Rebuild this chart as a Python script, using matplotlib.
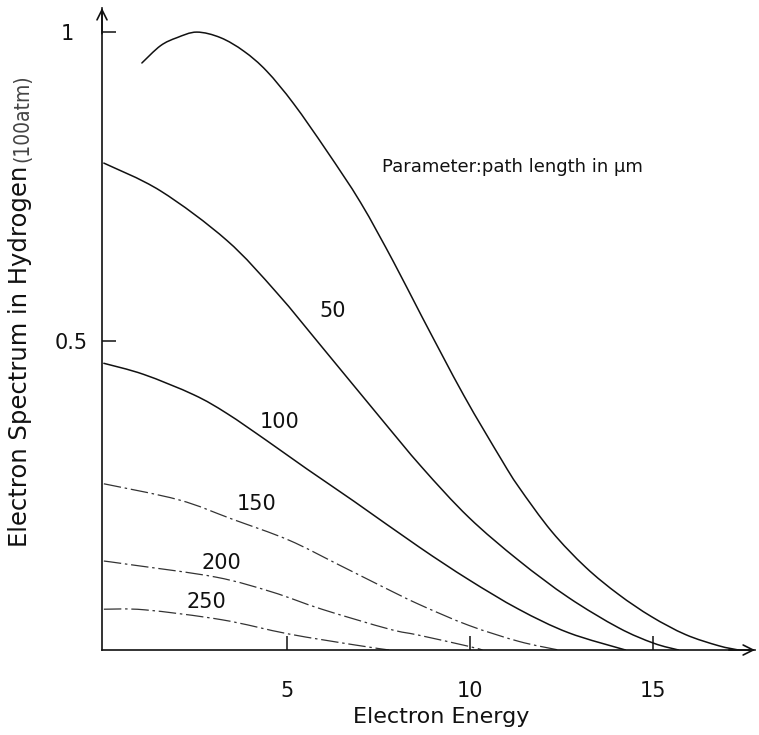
import matplotlib
matplotlib.use("Agg")
import numpy as np
import matplotlib.pyplot as plt
from matplotlib.path import Path
from matplotlib.patches import PathPatch
from matplotlib.transforms import ScaledTranslation

# Electron energy spectra in hydrogen (100 atm) after various path lengths (µm)
energy_0 = [1.04, 1.55, 2.0, 2.54, 3.19, 3.83, 4.45, 5.19, 6.09, 7.02, 7.92, 8.69,
            9.84, 10.87, 11.34, 12.24, 13.17, 14.07, 14.97, 15.90, 16.80, 17.35]
spec_0 = [0.950, 0.978, 0.991, 1.0, 0.991, 0.969, 0.937, 0.884, 0.808, 0.724, 0.628, 0.540,
          0.412, 0.308, 0.264, 0.192, 0.134, 0.090, 0.054, 0.025, 0.007, 0.0]

energy_50 = [0.0, 1.55, 3.36, 4.73, 6.01, 7.57, 8.69, 9.97, 11.34, 12.70, 14.07, 15.03, 15.71]
spec_50 = [0.788, 0.743, 0.663, 0.578, 0.487, 0.375, 0.296, 0.215, 0.145, 0.085, 0.036, 0.011, 0.0]

energy_100 = [0.0, 1.09, 2.46, 3.36, 4.45, 5.55, 6.83, 8.61, 9.97, 11.34, 12.70, 14.26]
spec_100 = [0.464, 0.446, 0.413, 0.383, 0.339, 0.293, 0.241, 0.167, 0.114, 0.066, 0.028, 0.0]

energy_150 = [0.0, 2.05, 3.5, 5.05, 6.42, 7.6, 8.61, 9.97, 11.34, 12.43]
spec_150 = [0.269, 0.243, 0.212, 0.178, 0.138, 0.103, 0.074, 0.040, 0.014, 0.0]

energy_200 = [0.0, 0.74, 3.06, 4.59, 5.96, 7.79, 8.61, 9.97, 10.35]
spec_200 = [0.144, 0.138, 0.118, 0.094, 0.066, 0.034, 0.024, 0.006, 0.0]

energy_250 = [0.0, 1.12, 3.22, 5.05, 6.88, 7.8]
spec_250 = [0.066, 0.065, 0.049, 0.026, 0.008, 0.0]

path_labels = ["50", "100", "150", "200", "250"]
label_x = [6.26, 4.81, 4.18, 3.22, 2.81]
label_y = [0.549, 0.369, 0.236, 0.141, 0.078]

x_ticks = [5, 10, 15]
x_ticklabels = ["5", "10", "15"]
y_ticks = [0.5, 1.0]
y_ticklabels = ["0.5", "1"]


def smooth_curve(ax, xs, ys, **style):
    """Draw a smooth (cubic Bezier, Catmull-Rom tangents) line through the points."""
    pts = np.column_stack([xs, ys]).astype(float)
    n = len(pts)
    verts = [pts[0]]
    codes = [Path.MOVETO]
    for i in range(n - 1):
        p0 = pts[i - 1] if i > 0 else pts[i]
        p1 = pts[i]
        p2 = pts[i + 1]
        p3 = pts[i + 2] if i + 2 < n else pts[i + 1]
        verts += [p1 + (p2 - p0) / 6.0, p2 - (p3 - p1) / 6.0, p2]
        codes += [Path.CURVE4] * 3
    patch = PathPatch(Path(verts, codes), facecolor="none", **style)
    ax.add_patch(patch)
    return patch


fig = plt.figure(figsize=(7.59, 7.35), dpi=100)
ax = fig.add_axes([102 / 759, 85 / 735, 653 / 759, 642 / 735])
ax.set_xlim(-0.05, 17.8)
ax.set_ylim(0, 1.039)

ink = "#111111"
solid = dict(edgecolor=ink, lw=1.1, capstyle="round")
broken = dict(edgecolor="#333333", lw=0.9, linestyle=(0, (14, 3, 2, 3)))

smooth_curve(ax, energy_0, spec_0, **solid)
smooth_curve(ax, energy_50, spec_50, **solid)
smooth_curve(ax, energy_100, spec_100, **solid)
smooth_curve(ax, energy_150, spec_150, **broken)
smooth_curve(ax, energy_200, spec_200, **broken)
smooth_curve(ax, energy_250, spec_250, **broken)

for txt, xx, yy in zip(path_labels, label_x, label_y):
    ax.text(xx, yy, txt, ha="center", va="center", fontsize=15, color=ink)

ax.text(7.6, 0.782, "Parameter:path length in μm", ha="left", va="center",
        fontsize=13, color=ink)

# axes with arrow heads, no frame on top/right
for side in ("top", "right"):
    ax.spines[side].set_visible(False)
for side in ("left", "bottom"):
    ax.spines[side].set_linewidth(1.2)
    ax.spines[side].set_color(ink)

ax.annotate("", xy=(1.0, 0), xytext=(0.96, 0), xycoords="axes fraction",
            arrowprops=dict(arrowstyle="->", lw=1.2, color=ink, mutation_scale=18,
                            shrinkA=0, shrinkB=0))
ax.annotate("", xy=(0, 1.0), xytext=(0, 0.96), xycoords="axes fraction",
            arrowprops=dict(arrowstyle="->", lw=1.2, color=ink, mutation_scale=18,
                            shrinkA=0, shrinkB=0))

ax.set_xticks(x_ticks)
ax.set_xticklabels(x_ticklabels)
ax.set_yticks(y_ticks)
ax.set_yticklabels(y_ticklabels)
ax.tick_params(axis="x", direction="in", length=10, width=1.1, pad=22,
               labelsize=15, colors=ink)
ax.tick_params(axis="y", direction="in", length=10, width=1.1, pad=10,
               labelsize=15, colors=ink)
# the "1" label sits further out from the axis
for lab in ax.get_yticklabels():
    if lab.get_text() == "1":
        lab.set_transform(lab.get_transform() +
                          ScaledTranslation(-10 / 72, 0, fig.dpi_scale_trans))

ax.text(0.52, -0.105, "Electron Energy", transform=ax.transAxes, ha="center",
        va="center", fontsize=16, color=ink)

ylab = ax.text(-0.125, 0.16, "Electron Spectrum in Hydrogen", transform=ax.transAxes,
               rotation=90, ha="center", va="bottom", fontsize=17.5, color=ink)
ax.annotate("(100atm)", xy=(0.5, 1.0), xycoords=ylab, xytext=(1.5, 3),
            textcoords="offset points", rotation=90, ha="center", va="bottom",
            fontsize=15, color="#444444", fontweight="light", fontstretch="condensed")

fig.savefig("out.png", dpi=100, facecolor="white")
